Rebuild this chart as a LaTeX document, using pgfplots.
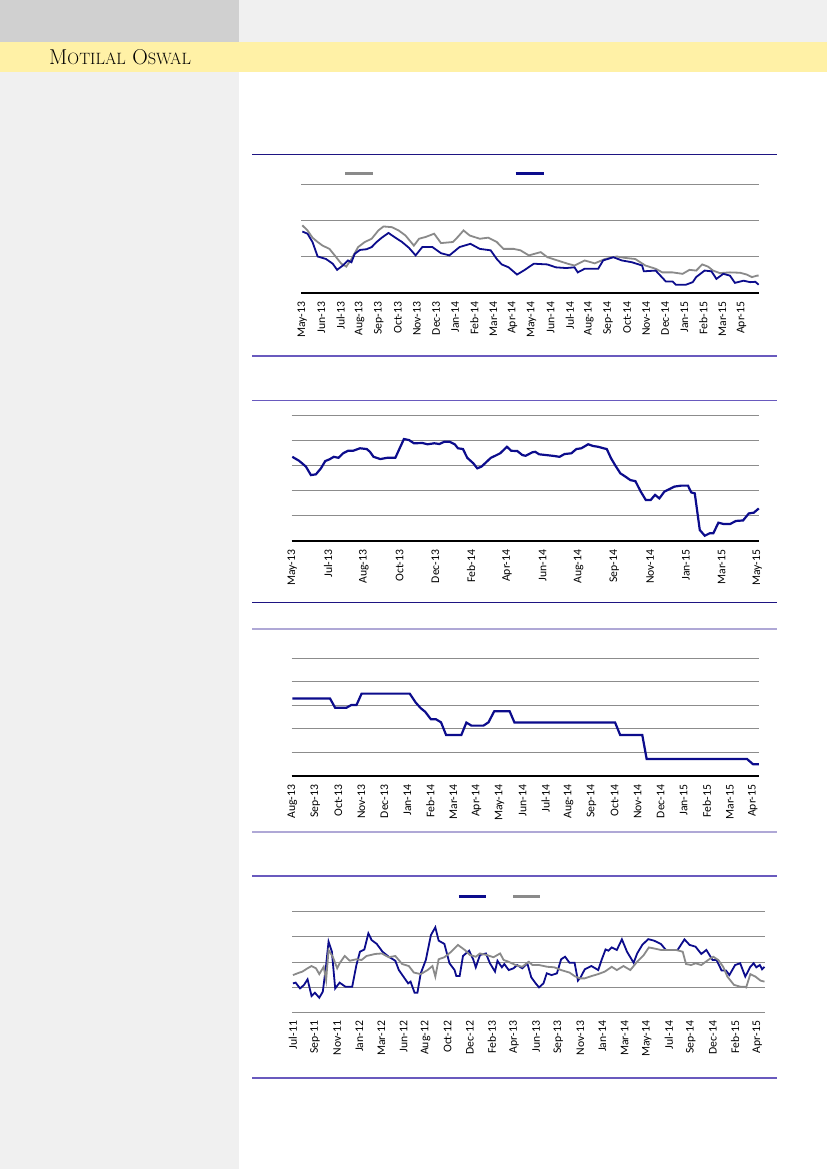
\documentclass[border=0pt]{standalone}
\usepackage{fontspec}
\usepackage{pgfplots}
\pgfplotsset{compat=1.18}
\newfontfamily\carlito{Carlito}
\definecolor{navyline}{RGB}{12,12,140}
\definecolor{grayline}{RGB}{138,138,138}
\definecolor{gridc}{RGB}{140,140,140}
\definecolor{ruleNavy}{RGB}{30,20,130}
\definecolor{ruleSlate}{RGB}{105,90,190}
\definecolor{ruleLav}{RGB}{175,168,214}
\definecolor{pageGray}{RGB}{240,240,240}
\definecolor{darkGray}{RGB}{208,208,208}
\definecolor{bandYellow}{RGB}{255,241,166}
\pgfplotsset{
  mychart/.style={
    scale only axis,
    axis lines*=left,
    y axis line style={draw=none},
    x axis line style={black, line width=1.1pt},
    xtick style={draw=none},
    ytick style={draw=none},
    yticklabels={},
    ymajorgrids,
    grid style={gridc, line width=0.9pt},
    xticklabel style={font=\carlito\fontsize{11.7}{13}\selectfont, rotate=90, anchor=east, inner sep=0pt},
    xticklabel shift=8.5pt,
    clip=false,
  },
  mylegend/.style={
    legend style={draw=none, fill=none, inner sep=0pt, outer sep=0pt, nodes={inner sep=0pt}, column sep=0pt},
    legend columns=2,
    legend image code/.code={\draw[##1, line width=2.5pt] (0pt,0pt) -- (28pt,0pt);},
  }
}
\begin{document}
\begin{tikzpicture}
\useasboundingbox (0pt,0pt) rectangle (827pt,-1169pt);
\fill[white] (0pt,0pt) rectangle (827pt,-1169pt);
\fill[pageGray] (0pt,-72pt) rectangle (239pt,-1169pt);
\fill[pageGray] (239pt,0pt) rectangle (827pt,-42pt);
\fill[darkGray] (0pt,0pt) rectangle (239pt,-42pt);
\fill[bandYellow] (0pt,-42pt) rectangle (827pt,-72pt);
\node[anchor=base west, inner sep=0pt] at (49pt,-65pt) {{\fontsize{21.5}{23}\selectfont M}{\fontsize{16.4}{18}\selectfont OTILAL}\hspace{6.5pt}{\fontsize{21.5}{23}\selectfont O}{\fontsize{16.4}{18}\selectfont SWAL}};
% rules
\draw[ruleNavy, line width=1.6pt] (252pt,-154.5pt) -- (777pt,-154.5pt);
\draw[ruleSlate, line width=1.6pt] (252pt,-356pt) -- (777pt,-356pt);
\draw[ruleSlate, line width=1.6pt] (252pt,-400.3pt) -- (777pt,-400.3pt);
\draw[ruleNavy, line width=1.6pt] (252pt,-602.3pt) -- (777pt,-602.3pt);
\draw[ruleLav, line width=1.8pt] (252pt,-629.3pt) -- (777pt,-629.3pt);
\draw[ruleLav, line width=1.8pt] (252pt,-831.7pt) -- (777pt,-831.7pt);
\draw[ruleSlate, line width=1.6pt] (252pt,-876pt) -- (777pt,-876pt);
\draw[ruleSlate, line width=1.6pt] (252pt,-1078pt) -- (777pt,-1078pt);

% Chart 1
\begin{axis}[mychart, mylegend, at={(301.4pt,-293pt)}, anchor=south west, width=457.4pt, height=108.5pt,
  xmin=-0.05, xmax=23.9, ymin=0, ymax=3, ytick={1,2,3},
  xtick={0,...,23},
  xticklabels={May-13,Jun-13,Jul-13,Aug-13,Sep-13,Oct-13,Nov-13,Dec-13,Jan-14,Feb-14,Mar-14,Apr-14,May-14,Jun-14,Jul-14,Aug-14,Sep-14,Oct-14,Nov-14,Dec-14,Jan-15,Feb-15,Mar-15,Apr-15},
  legend style={at={(0.093,1.10)}, anchor=west}]
\addplot[grayline, line width=1.8pt] coordinates {
(0.00,1.87)(0.27,1.73)(0.53,1.53)(0.80,1.41)(1.06,1.31)(1.42,1.22)(1.77,0.99)(2.04,0.81)(2.30,0.73)(2.57,0.94)(2.92,1.27)(3.27,1.41)(3.63,1.50)(3.98,1.73)(4.25,1.84)(4.69,1.82)(5.04,1.73)(5.40,1.59)(5.84,1.31)(6.11,1.50)(6.46,1.55)(6.90,1.64)(7.26,1.38)(7.88,1.41)(8.14,1.55)(8.44,1.73)(8.76,1.59)(9.29,1.50)(9.73,1.53)(10.18,1.41)(10.53,1.22)(11.06,1.22)(11.42,1.18)(11.86,1.04)(12.48,1.13)(12.83,0.99)(13.36,0.90)(13.89,0.81)(14.25,0.76)(14.78,0.90)(15.31,0.82)(15.84,0.94)(16.46,1.01)(16.90,0.97)(17.43,0.94)(17.96,0.76)(18.50,0.67)(18.85,0.57)(19.38,0.57)(19.91,0.53)(20.27,0.64)(20.62,0.62)(20.94,0.79)(21.24,0.73)(21.50,0.62)(21.86,0.55)(22.39,0.57)(22.92,0.56)(23.27,0.51)(23.54,0.44)(23.81,0.48)(23.89,0.48)};
\addlegendentry{\hspace*{140pt}}
\addplot[navyline, line width=1.8pt] coordinates {
(0.00,1.70)(0.27,1.64)(0.53,1.41)(0.80,1.01)(1.24,0.94)(1.59,0.81)(1.82,0.64)(2.12,0.76)(2.39,0.90)(2.57,0.85)(2.74,1.08)(3.01,1.19)(3.36,1.21)(3.63,1.27)(3.89,1.41)(4.16,1.53)(4.51,1.66)(4.87,1.53)(5.22,1.41)(5.58,1.25)(5.93,1.04)(6.28,1.27)(6.81,1.27)(7.26,1.10)(7.70,1.04)(8.23,1.27)(8.80,1.36)(9.29,1.22)(9.86,1.18)(10.18,0.94)(10.44,0.79)(10.80,0.71)(11.24,0.51)(11.59,0.62)(12.12,0.81)(12.83,0.79)(13.27,0.71)(13.81,0.69)(14.25,0.71)(14.42,0.57)(14.78,0.67)(15.49,0.67)(15.75,0.90)(16.28,0.99)(16.73,0.90)(17.26,0.85)(17.79,0.76)(17.88,0.60)(18.50,0.62)(19.03,0.32)(19.38,0.32)(19.56,0.23)(20.09,0.23)(20.44,0.30)(20.62,0.44)(21.06,0.62)(21.42,0.60)(21.68,0.39)(22.04,0.53)(22.39,0.48)(22.65,0.28)(23.10,0.34)(23.45,0.30)(23.72,0.31)(23.89,0.23)};
\addlegendentry{}
\end{axis}

% Chart 2
\begin{axis}[mychart, at={(291.6pt,-541pt)}, anchor=south west, width=467.2pt, height=125.3pt,
  xmin=-0.02, xmax=13.04, ymin=0, ymax=5, ytick={1,2,3,4,5},
  xtick={0,...,13},
  xticklabels={May-13,Jul-13,Aug-13,Oct-13,Dec-13,Feb-14,Apr-14,Jun-14,Aug-14,Sep-14,Nov-14,Jan-15,Mar-15,May-15}]
\addplot[navyline, line width=2.2pt] coordinates {
(0,3.36)(0.19,3.20)(0.38,2.97)(0.52,2.63)(0.66,2.66)(0.80,2.90)(0.92,3.19)(1.04,3.26)(1.16,3.36)(1.29,3.32)(1.42,3.50)(1.56,3.60)(1.70,3.60)(1.89,3.70)(2.08,3.67)(2.17,3.56)(2.27,3.36)(2.46,3.27)(2.65,3.32)(2.88,3.32)(3.02,3.76)(3.12,4.07)(3.26,4.03)(3.40,3.90)(3.64,3.91)(3.78,3.86)(3.97,3.90)(4.11,3.87)(4.25,3.96)(4.40,3.96)(4.54,3.86)(4.63,3.70)(4.77,3.67)(4.89,3.32)(5.06,3.10)(5.17,2.90)(5.29,2.97)(5.43,3.16)(5.55,3.32)(5.67,3.40)(5.81,3.50)(6.00,3.76)(6.12,3.60)(6.29,3.59)(6.43,3.43)(6.52,3.40)(6.71,3.54)(6.79,3.56)(6.90,3.46)(7.09,3.43)(7.28,3.40)(7.47,3.36)(7.61,3.47)(7.80,3.50)(7.94,3.67)(8.08,3.70)(8.27,3.86)(8.41,3.79)(8.55,3.76)(8.70,3.70)(8.79,3.67)(8.91,3.30)(9.03,3.01)(9.17,2.70)(9.31,2.57)(9.45,2.43)(9.59,2.39)(9.74,1.97)(9.88,1.64)(10.02,1.64)(10.14,1.84)(10.26,1.70)(10.40,1.97)(10.54,2.07)(10.68,2.17)(10.87,2.21)(11.06,2.21)(11.15,1.94)(11.25,1.90)(11.39,0.44)(11.53,0.21)(11.67,0.31)(11.77,0.31)(11.91,0.73)(12.05,0.68)(12.24,0.68)(12.40,0.80)(12.60,0.82)(12.76,1.10)(12.90,1.13)(13.04,1.30)};
\end{axis}

% Chart 3
\begin{axis}[mychart, at={(291.6pt,-776pt)}, anchor=south west, width=467.2pt, height=117.7pt,
  xmin=-0.03, xmax=20.26, ymin=0, ymax=5, ytick={1,2,3,4,5},
  xtick={0,...,20},
  xticklabels={Aug-13,Sep-13,Oct-13,Nov-13,Dec-13,Jan-14,Feb-14,Mar-14,Apr-14,May-14,Jun-14,Jul-14,Aug-14,Sep-14,Oct-14,Nov-14,Dec-14,Jan-15,Feb-15,Mar-15,Apr-15}]
\addplot[navyline, line width=2.2pt] coordinates {
(0,3.29)(1.64,3.29)(1.86,2.90)(2.35,2.90)(2.57,3.02)(2.79,3.02)(3.01,3.50)(5.10,3.50)(5.36,3.12)(5.58,2.88)(5.77,2.73)(6.02,2.41)(6.24,2.41)(6.46,2.28)(6.68,1.74)(7.34,1.74)(7.56,2.27)(7.78,2.14)(8.30,2.14)(8.52,2.28)(8.77,2.75)(9.44,2.75)(9.65,2.27)(14.02,2.27)(14.24,1.74)(15.20,1.74)(15.39,0.72)(19.75,0.72)(20.01,0.50)(20.26,0.50)};
\end{axis}

% Chart 4
\begin{axis}[mychart, mylegend, at={(292.3pt,-1012.3pt)}, anchor=south west, width=472.2pt, height=100.6pt,
  x axis line style={draw=none},
  xmin=-0.03, xmax=21.33, ymin=0, ymax=4, ytick={0,1,2,3,4},
  xtick={0,...,21},
  xticklabels={Jul-11,Sep-11,Nov-11,Jan-12,Mar-12,Jun-12,Aug-12,Oct-12,Dec-12,Feb-13,Apr-13,Jun-13,Sep-13,Nov-13,Jan-14,Mar-14,May-14,Jul-14,Sep-14,Dec-14,Feb-15,Apr-15},
  legend image code/.code={\draw[#1, line width=2.5pt] (0pt,0pt) -- (27pt,0pt);},
  legend style={at={(0.350,1.15)}, anchor=west}]
\addplot[navyline, line width=1.8pt] coordinates {
(0.00,1.15)(0.12,1.18)(0.32,0.95)(0.50,1.09)(0.66,1.31)(0.84,0.65)(0.99,0.78)(1.19,0.58)(1.35,0.82)(1.50,1.88)(1.61,2.81)(1.76,2.41)(1.91,0.95)(2.11,1.18)(2.37,1.02)(2.68,1.02)(2.87,1.88)(3.03,2.41)(3.23,2.50)(3.41,3.14)(3.56,2.87)(3.79,2.72)(4.05,2.41)(4.33,2.21)(4.63,2.05)(4.79,1.68)(5.02,1.39)(5.21,1.15)(5.32,1.22)(5.50,0.78)(5.63,0.78)(5.78,1.55)(6.01,2.08)(6.24,3.07)(6.44,3.38)(6.59,2.85)(6.85,2.72)(7.08,1.95)(7.31,1.68)(7.39,1.44)(7.54,1.44)(7.69,2.24)(7.97,2.45)(8.15,2.11)(8.27,1.79)(8.46,2.28)(8.73,2.34)(8.91,1.95)(9.14,1.62)(9.25,2.05)(9.45,1.79)(9.56,1.92)(9.76,1.68)(9.98,1.75)(10.14,1.88)(10.37,1.75)(10.60,1.95)(10.78,1.39)(10.98,1.15)(11.13,0.99)(11.33,1.15)(11.48,1.55)(11.70,1.48)(11.94,1.55)(12.13,2.11)(12.31,2.21)(12.51,1.97)(12.74,1.97)(12.89,1.26)(13.01,1.39)(13.20,1.71)(13.50,1.84)(13.81,1.68)(13.96,2.08)(14.14,2.50)(14.27,2.45)(14.42,2.58)(14.65,2.48)(14.88,2.90)(15.11,2.41)(15.41,1.97)(15.57,2.34)(15.80,2.68)(16.07,2.91)(16.33,2.85)(16.64,2.72)(16.87,2.48)(17.40,2.48)(17.71,2.90)(17.94,2.68)(18.21,2.61)(18.47,2.32)(18.70,2.48)(18.98,2.08)(19.16,2.08)(19.39,1.66)(19.59,1.66)(19.74,1.48)(20.00,1.88)(20.23,1.95)(20.46,1.42)(20.69,1.81)(20.84,1.95)(20.96,1.79)(21.12,1.88)(21.22,1.71)(21.33,1.81)};
\addlegendentry{\hspace*{25pt}}
\addplot[grayline, line width=1.8pt] coordinates {
(0.00,1.48)(0.20,1.55)(0.43,1.62)(0.66,1.75)(0.84,1.84)(1.04,1.75)(1.19,1.52)(1.39,1.81)(1.50,1.28)(1.61,2.48)(1.80,2.21)(2.00,1.75)(2.11,1.95)(2.34,2.24)(2.57,2.05)(2.87,2.11)(3.10,2.08)(3.33,2.24)(3.72,2.32)(4.02,2.34)(4.33,2.19)(4.63,2.24)(4.94,1.92)(5.24,1.84)(5.47,1.58)(5.78,1.52)(6.09,1.68)(6.31,1.84)(6.44,1.42)(6.59,2.11)(6.85,2.19)(7.16,2.41)(7.46,2.68)(7.77,2.48)(8.00,2.28)(8.27,2.21)(8.46,2.34)(8.76,2.28)(9.07,2.19)(9.37,2.34)(9.53,2.08)(9.76,2.01)(10.06,1.88)(10.37,1.81)(10.67,2.01)(10.83,1.88)(11.13,1.88)(11.51,1.81)(11.82,1.79)(12.13,1.68)(12.51,1.58)(12.74,1.44)(12.97,1.35)(13.20,1.35)(13.50,1.44)(13.81,1.52)(14.11,1.62)(14.42,1.81)(14.65,1.68)(14.95,1.84)(15.26,1.68)(15.57,2.01)(15.87,2.28)(16.10,2.58)(16.33,2.54)(16.64,2.48)(17.02,2.48)(17.32,2.48)(17.63,2.41)(17.78,1.92)(18.01,1.88)(18.21,1.95)(18.47,1.88)(18.78,2.08)(19.01,2.21)(19.24,2.08)(19.46,1.81)(19.65,1.42)(19.95,1.09)(20.23,1.02)(20.41,1.02)(20.50,0.99)(20.69,1.52)(20.92,1.42)(21.15,1.26)(21.33,1.22)};
\addlegendentry{}
\end{axis}
\end{tikzpicture}
\end{document}
